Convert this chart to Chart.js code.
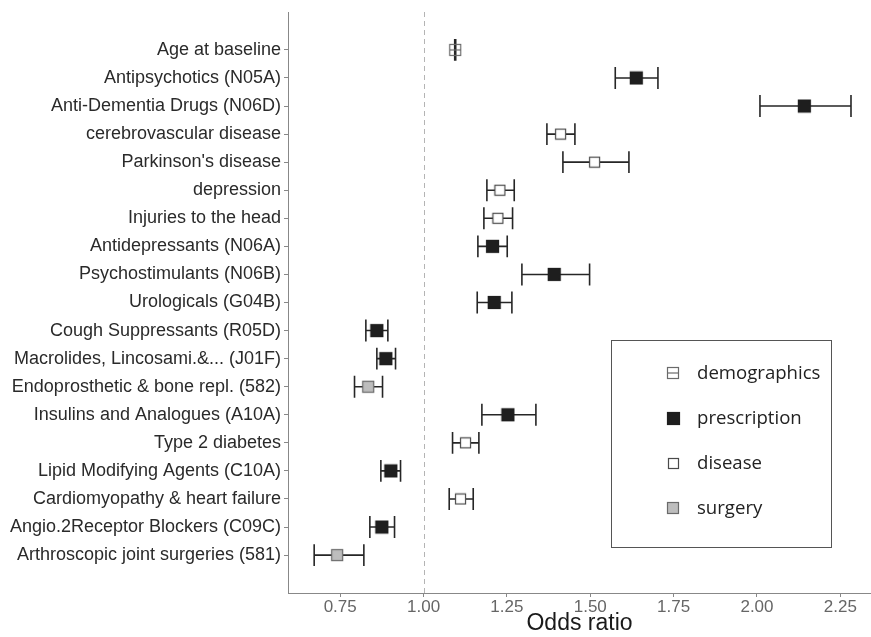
<!DOCTYPE html>
<html><head><meta charset="utf-8">
<script src="https://cdn.jsdelivr.net/npm/chart.js@4.4.1/dist/chart.umd.min.js"></script>
<style>html,body{margin:0;padding:0;background:#fff;} #wrap{width:871px;height:637px;}</style>
</head><body><div id="wrap"><canvas id="c" width="871" height="637"></canvas></div>
<script>
const categories = [
  "Age at baseline","Antipsychotics (N05A)","Anti-Dementia Drugs (N06D)","cerebrovascular disease",
  "Parkinson's disease","depression","Injuries to the head","Antidepressants (N06A)",
  "Psychostimulants (N06B)","Urologicals (G04B)","Cough Suppressants (R05D)",
  "Macrolides, Lincosami.&... (J01F)","Endoprosthetic & bone repl. (582)","Insulins and Analogues (A10A)",
  "Type 2 diabetes","Lipid Modifying Agents (C10A)","Cardiomyopathy & heart failure",
  "Angio.2Receptor Blockers (C09C)","Arthroscopic joint surgeries (581)"
];
const groups = [
  "demographics","prescription","prescription","disease",
  "disease","disease","disease","prescription",
  "prescription","prescription","prescription",
  "prescription","surgery","prescription",
  "disease","prescription","disease",
  "prescription","surgery"
];
const estimates = [1.095,1.638,2.142,1.411,1.513,1.229,1.223,1.207,1.392,1.212,0.860,0.887,0.834,1.253,1.126,0.902,1.111,0.875,0.741];
const lowerCI   = [1.0935,1.575,2.009,1.370,1.418,1.190,1.181,1.163,1.295,1.161,0.827,0.860,0.793,1.175,1.087,0.872,1.077,0.839,0.672];
const upperCI   = [1.0965,1.703,2.282,1.454,1.616,1.272,1.267,1.251,1.498,1.265,0.893,0.916,0.877,1.337,1.166,0.931,1.149,0.913,0.821];
const xTickValues = [0.75,1.00,1.25,1.50,1.75,2.00,2.25];
const groupNames = ["demographics","prescription","disease","surgery"];
const refValue = 1.0;

const FONT = "'Liberation Sans', Arial, sans-serif";

function makeMarker(fill, stroke, midline, size){
  const c = document.createElement('canvas');
  c.width = size + 2; c.height = size + 2;
  const g = c.getContext('2d');
  if (fill) { g.fillStyle = fill; g.fillRect(1,1,size,size); }
  g.strokeStyle = stroke; g.lineWidth = 1.2;
  g.strokeRect(1.5,1.5,size-1,size-1);
  if (midline) {
    g.beginPath(); g.moveTo(1.5,(size+2)/2); g.lineTo(size+0.5,(size+2)/2); g.stroke();
  }
  return c;
}
const markerStyles = {
  demographics: makeMarker(null, '#6a6a6a', true, 12),
  prescription: makeMarker('#1e1e1e', '#1e1e1e', false, 13),
  disease: makeMarker('#ffffff', '#4a4a4a', false, 11),
  surgery: makeMarker('#bdbdbd', '#6a6a6a', false, 12)
};

const datasets = groupNames.map(gn => ({
  label: gn,
  data: categories.map((c,i)=>({x: estimates[i], y: i, g: groups[i]})).filter(p=>p.g===gn),
  pointStyle: markerStyles[gn],
  pointRadius: 6,
  showLine: false
}));

const errorBars = {
  id: 'errorBars',
  beforeDatasetsDraw(chart){
    const ctx = chart.ctx, x = chart.scales.x, y = chart.scales.y, a = chart.chartArea;
    ctx.save();
    const xr = Math.round(x.getPixelForValue(refValue)) + 0.5;
    ctx.strokeStyle = '#b4b4b4'; ctx.lineWidth = 1; ctx.setLineDash([5,4]);
    ctx.beginPath(); ctx.moveTo(xr, a.top); ctx.lineTo(xr, a.bottom); ctx.stroke();
    ctx.setLineDash([]);
    ctx.strokeStyle = '#262626'; ctx.lineWidth = 1.6;
    categories.forEach((c,i)=>{
      const yy = y.getPixelForValue(i);
      const h = Math.abs(y.getPixelForValue(i+0.39) - yy);
      const x1 = x.getPixelForValue(lowerCI[i]);
      const x2 = x.getPixelForValue(upperCI[i]);
      ctx.beginPath();
      ctx.moveTo(x1,yy); ctx.lineTo(x2,yy);
      ctx.moveTo(x1,yy-h); ctx.lineTo(x1,yy+h);
      ctx.moveTo(x2,yy-h); ctx.lineTo(x2,yy+h);
      ctx.stroke();
    });
    ctx.restore();
  }
};

const boxLegend = {
  id: 'boxLegend',
  afterDraw(chart){
    const ctx = chart.ctx;
    ctx.save();
    const bx = 611.5, by = 340.5, bw = 220, bh = 207;
    ctx.strokeStyle = '#555'; ctx.lineWidth = 1;
    ctx.strokeRect(bx, by, bw, bh);
    ctx.font = "18.6px 'Open Sans', 'DejaVu Sans', sans-serif";
    ctx.fillStyle = '#222'; ctx.textBaseline = 'middle'; ctx.textAlign = 'left';
    chart.data.datasets.forEach((ds, k)=>{
      const yy = 373 + k*45;
      const img = ds.pointStyle;
      ctx.drawImage(img, Math.round(673 - img.width/2), Math.round(yy - img.height/2));
      ctx.fillText(ds.label, 697, yy + 1);
    });
    ctx.restore();
  }
};

new Chart(document.getElementById('c'), {
  type: 'scatter',
  data: { datasets },
  plugins: [errorBars, boxLegend],
  options: {
    responsive: false,
    animation: false,
    layout: { autoPadding: false, padding: { top: 12, right: 0, bottom: 0, left: 0 } },
    plugins: { legend: { display: false }, tooltip: { enabled: false } },
    scales: {
      x: {
        type: 'linear', min: 0.5935, max: 2.342,
        afterBuildTicks: s => { s.ticks = xTickValues.map(v=>({value:v})); },
        afterFit: s => { s.height = 44; s.paddingLeft = 0; s.paddingRight = 0; },
        ticks: { callback: v => Number(v).toFixed(2), color: '#666', font: { family: FONT, size: 17 }, padding: 0, maxRotation: 0 },
        grid: { drawOnChartArea: false, drawTicks: true, tickLength: 4, color: '#888' },
        border: { display: true, color: '#888', width: 1 },
        title: { display: true, text: 'Odds ratio', color: '#1a1a1a', font: { family: FONT, size: 23 }, padding: { top: 0, bottom: 0 } }
      },
      y: {
        type: 'linear', reverse: true, min: -1.35, max: 19.35,
        afterBuildTicks: s => { s.ticks = categories.map((c,i)=>({value:i})); },
        afterFit: s => { s.width = 288; s.paddingTop = 0; s.paddingBottom = 0; },
        ticks: { callback: v => categories[v], color: '#2a2a2a', font: { family: FONT, size: 18 }, padding: 3, autoSkip: false },
        grid: { drawOnChartArea: false, drawTicks: true, tickLength: 4, color: '#888' },
        border: { display: true, color: '#888', width: 1 }
      }
    }
  }
});
</script>
</body></html>
